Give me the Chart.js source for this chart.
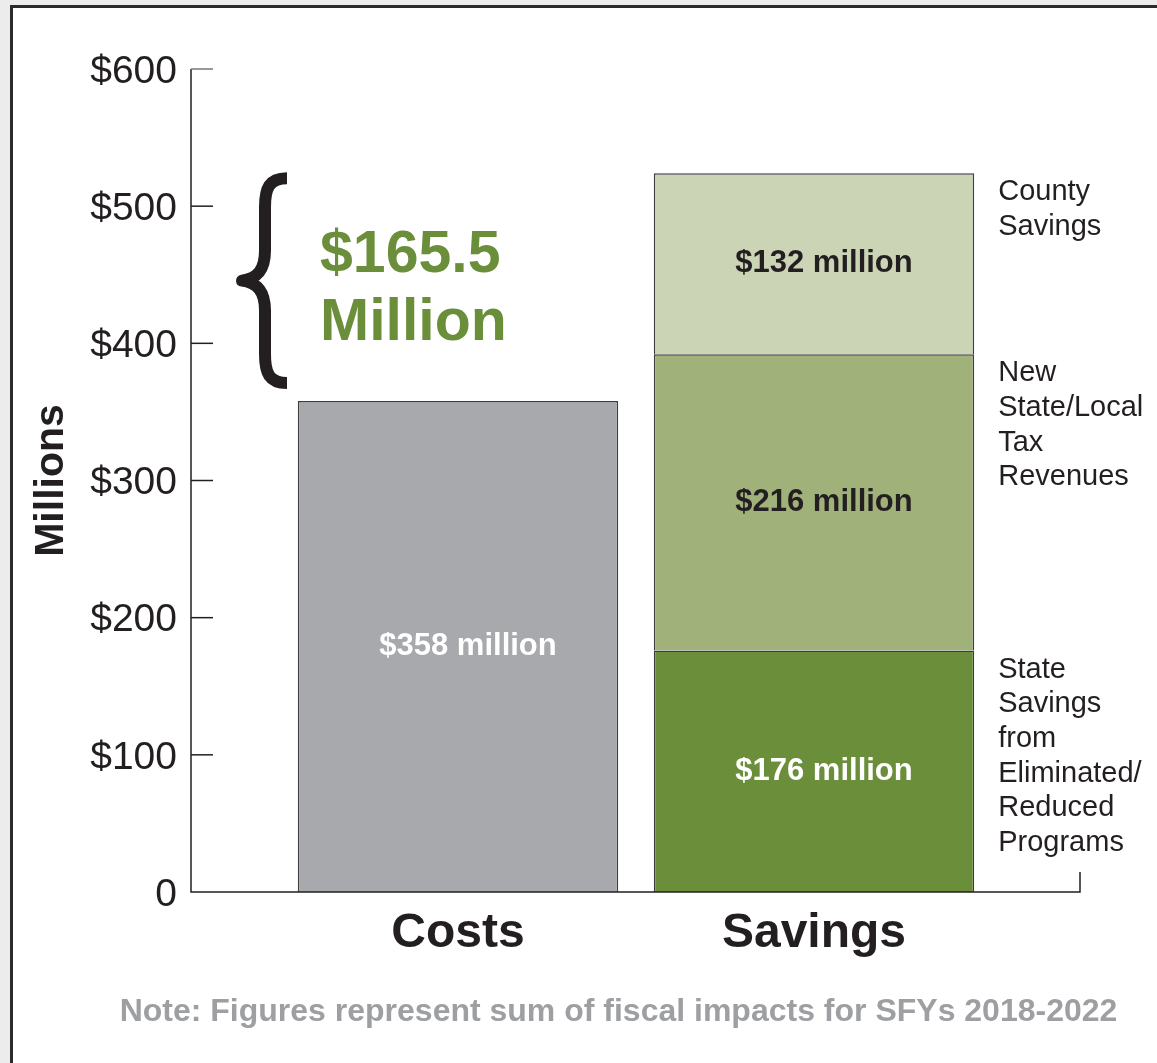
<!DOCTYPE html>
<html>
<head>
<meta charset="utf-8">
<title>Costs and Savings</title>
<script src="https://cdn.jsdelivr.net/npm/chart.js@4.4.1/dist/chart.umd.min.js"></script>
<style>
  html, body { margin: 0; padding: 0; background: #ececec; }
  #wrap { position: relative; width: 1157px; height: 1063px; overflow: hidden; }
  #frame { position: absolute; left: 10px; top: 5px; width: 1200px; height: 1200px; background: #fff; border: 3px solid #2b2b2b; }
  #chart { position: absolute; left: 0; top: 0; }
</style>
</head>
<body>
<div id="wrap">
  <div id="frame"></div>
  <canvas id="chart" width="1157" height="1063"></canvas>
</div>
<script>
// Chart data
const categories = ['Costs', 'Savings'];
const costValues = [358, null];
const stateSavings = [null, 176];
const taxRevenues = [null, 216];
const countySavings = [null, 132];
const yTickLabels = ['0', '$100', '$200', '$300', '$400', '$500', '$600'];

// Side captions for the savings segments (bottom to top)
const stateCaption = ['State', 'Savings', 'from', 'Eliminated/', 'Reduced', 'Programs'];
const taxCaption = ['New', 'State/Local', 'Tax', 'Revenues'];
const countyCaption = ['County', 'Savings'];

const gapText = ['$165.5', 'Million'];
const noteText = 'Note: Figures represent sum of fiscal impacts for SFYs 2018-2022';

const FONT = '"Liberation Sans", Arial, Helvetica, sans-serif';
const INK = '#231f20';
const GREEN = '#6b8e3a';

// Axis frame: left axis with inward ticks, baseline and right end tick
const framePlugin = {
  id: 'frame',
  afterDraw(chart) {
    const { ctx, chartArea, scales: { y } } = chart;
    const x0 = chartArea.left - 89;
    const x1 = chartArea.right + 88;
    const yb = y.getPixelForValue(0);
    ctx.save();
    ctx.strokeStyle = INK;
    ctx.lineWidth = 1.5;
    ctx.beginPath();
    ctx.moveTo(x0, y.getPixelForValue(y.max));
    ctx.lineTo(x0, yb);
    ctx.lineTo(x1, yb);
    ctx.lineTo(x1, yb - 20);
    ctx.stroke();
    y.ticks.forEach(t => {
      if (t.value === 0) return;
      const py = y.getPixelForValue(t.value);
      ctx.strokeStyle = t.value === y.max ? '#777' : INK;
      ctx.beginPath();
      ctx.moveTo(x0, py);
      ctx.lineTo(x0 + 22, py);
      ctx.stroke();
    });
    ctx.restore();
  }
};

// Value text in each bar segment plus captions to the right of the savings stack
const labelPlugin = {
  id: 'segmentLabels',
  afterDatasetsDraw(chart) {
    const { ctx } = chart;
    ctx.save();
    ctx.textAlign = 'center';
    ctx.textBaseline = 'middle';
    chart.data.datasets.forEach((ds, i) => {
      const meta = chart.getDatasetMeta(i);
      meta.data.forEach((bar, j) => {
        const v = ds.data[j];
        if (v == null) return;
        ctx.font = 'bold 31px ' + FONT;
        ctx.fillStyle = ds.valueColor;
        ctx.fillText('$' + v + ' million', bar.x + 10, (bar.y + bar.base) / 2);
        if (ds.caption) {
          ctx.save();
          ctx.textAlign = 'left';
          ctx.font = '29px ' + FONT;
          ctx.fillStyle = INK;
          ds.caption.forEach((line, k) => {
            ctx.fillText(line, bar.x + bar.width / 2 + 24, bar.y + 19 + k * 34.7);
          });
          ctx.restore();
        }
      });
    });
    ctx.restore();
  }
};

// Brace spanning the gap between costs and total savings
const bracePlugin = {
  id: 'gapBrace',
  afterDraw(chart) {
    const { ctx, chartArea } = chart;
    const top = chart.getDatasetMeta(3).data[1].y;
    const bottom = chart.getDatasetMeta(0).data[0].y - 13;
    const mid = (top + bottom) / 2;
    const xr = chartArea.left + 7;
    const xs = chartArea.left - 15;
    const xt = chartArea.left - 38;
    ctx.save();
    ctx.strokeStyle = INK;
    ctx.lineWidth = 12;
    ctx.lineJoin = 'round';
    ctx.beginPath();
    ctx.moveTo(xr, top + 5);
    ctx.bezierCurveTo(xs + 4, top + 5, xs, top + 15, xs, top + 34);
    ctx.lineTo(xs, mid - 30);
    ctx.bezierCurveTo(xs, mid - 10, xs - 8, mid - 2, xt, mid);
    ctx.bezierCurveTo(xs - 8, mid + 2, xs, mid + 10, xs, mid + 30);
    ctx.lineTo(xs, bottom - 34);
    ctx.bezierCurveTo(xs, bottom - 15, xs + 4, bottom - 5, xr, bottom - 5);
    ctx.stroke();

    ctx.font = 'bold 59px ' + FONT;
    ctx.fillStyle = GREEN;
    ctx.textAlign = 'left';
    ctx.textBaseline = 'middle';
    ctx.fillText(gapText[0], chartArea.left + 40, mid - 25);
    ctx.fillText(gapText[1], chartArea.left + 40, mid + 43);

    ctx.font = 'bold 32px ' + FONT;
    ctx.fillStyle = '#9d9fa2';
    ctx.textAlign = 'center';
    ctx.fillText(noteText, chart.width / 2 + 40, 1012);
    ctx.restore();
  }
};

const barStyle = { borderColor: '#3d3d3d', borderWidth: 1.5, categoryPercentage: 1, barPercentage: 0.9 };

new Chart(document.getElementById('chart'), {
  type: 'bar',
  data: {
    labels: categories,
    datasets: [
      Object.assign({ label: 'Costs', data: costValues, backgroundColor: '#a7a9ac', valueColor: '#ffffff' }, barStyle),
      Object.assign({ label: 'State Savings', data: stateSavings, backgroundColor: GREEN, valueColor: '#ffffff', caption: stateCaption }, barStyle),
      Object.assign({ label: 'Tax Revenues', data: taxRevenues, backgroundColor: '#a0b17a', valueColor: INK, caption: taxCaption }, barStyle),
      Object.assign({ label: 'County Savings', data: countySavings, backgroundColor: '#ccd4b6', valueColor: INK, caption: countyCaption }, barStyle)
    ]
  },
  options: {
    responsive: false,
    animation: false,
    layout: { padding: { top: 69, right: 165, left: 0, bottom: 0 } },
    plugins: {
      legend: { display: false },
      tooltip: { enabled: false }
    },
    scales: {
      x: {
        stacked: true,
        grid: { display: false, drawTicks: false },
        border: { display: false },
        ticks: { color: INK, padding: 13, font: { family: FONT, size: 48, weight: 'bold' } },
        afterFit(scale) { scale.height = 171; }
      },
      y: {
        stacked: true,
        min: 0,
        max: 600,
        grid: { display: false, drawTicks: false },
        border: { display: false },
        ticks: {
          stepSize: 100,
          padding: 103,
          labelOffset: 3,
          color: INK,
          font: { family: FONT, size: 39 },
          callback: (value, index) => yTickLabels[index]
        },
        title: {
          display: true,
          text: 'Millions',
          color: INK,
          padding: { top: 27, bottom: 0 },
          font: { family: FONT, size: 41, weight: 'bold' }
        },
        afterFit(scale) {
          // the large label padding should only push labels sideways
          scale.width = 280;
          scale.paddingTop = 0;
          scale.paddingBottom = 0;
        }
      }
    }
  },
  plugins: [framePlugin, labelPlugin, bracePlugin]
});
</script>
</body>
</html>
